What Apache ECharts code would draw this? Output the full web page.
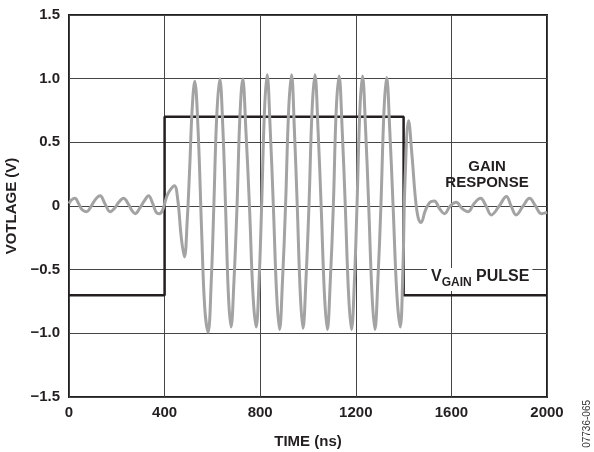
<!DOCTYPE html>
<html>
<head>
<meta charset="utf-8">
<script src="https://cdn.jsdelivr.net/npm/echarts@6/dist/echarts.min.js"></script>
<style>
  html, body { margin: 0; padding: 0; background: #fff; }
  #chart { width: 594px; height: 452px; }
</style>
</head>
<body>
<div id="chart"></div>
<script>
// tick labels
const xTickLabels = ['0', '400', '800', '1200', '1600', '2000'];
const yTickLabels = ['\u22121.5', '\u22121.0', '\u22120.5', '0', '0.5', '1.0', '1.5'];

// V_GAIN pulse (ns, V)
const pulseTime = [0, 400, 400, 1400, 1400, 2000];
const pulseValue = [-0.7, -0.7, 0.7, 0.7, -0.7, -0.7];

// gain response (ns, V)
const gainTime = [
    0, 12, 25, 40, 55, 74, 90, 110, 130, 150, 172, 190, 208, 228, 250, 265, 277, 295, 315, 333,
    350, 365, 378, 392, 410, 425, 441, 455, 470, 483, 495, 505, 515, 526, 540, 555, 568, 582, 595, 606,
    618, 631, 644, 655, 667, 678, 690, 703, 715, 727, 740, 755, 770, 783, 795, 806, 818, 829, 842, 855,
    869, 881, 893, 906, 919, 931, 943, 955, 968, 979, 991, 1004, 1017, 1029, 1042, 1055, 1069, 1081, 1093, 1106,
    1118, 1130, 1143, 1156, 1170, 1182, 1194, 1205, 1217, 1228, 1241, 1254, 1268, 1280, 1292, 1305, 1318, 1329, 1342, 1356,
    1372, 1386, 1397, 1406, 1421, 1435, 1450, 1462, 1473, 1490, 1510, 1529, 1550, 1571, 1595, 1620, 1645, 1669, 1695, 1722,
    1745, 1767, 1800, 1830, 1850, 1871, 1900, 1927, 1952, 1976, 2000
];
const gainValue = [
    0.02, 0.05, 0.06, 0.02, -0.03, -0.045, -0.01, 0.05, 0.08, 0.02, -0.045, -0.02, 0.03, 0.06, 0.01, -0.04, -0.06, -0.02, 0.04, 0.08,
    0.02, -0.05, -0.06, -0.03, 0.08, 0.13, 0.16, 0.05, -0.25, -0.40, -0.1, 0.3, 0.75, 0.98, 0.6, -0.2, -0.8, -0.99, -0.6, 0,
    0.7, 1.0, 0.6, 0, -0.7, -0.95, -0.6, 0, 0.7, 1.0, 0.6, 0, -0.7, -0.95, -0.6, 0, 0.75, 1.03, 0.6, 0,
    -0.7, -0.97, -0.6, 0, 0.75, 1.03, 0.6, 0, -0.7, -0.96, -0.6, 0, 0.75, 1.03, 0.6, 0, -0.7, -0.97, -0.6, 0,
    0.75, 1.02, 0.6, 0, -0.7, -0.97, -0.6, 0, 0.75, 1.02, 0.6, 0, -0.7, -0.97, -0.6, 0, 0.75, 1.01, 0.6, 0,
    -0.7, -0.95, -0.5, 0.2, 0.67, 0.4, 0.05, -0.1, -0.13, -0.04, 0.03, 0.04, -0.02, -0.06, 0, 0.03, -0.02, -0.045, 0.02, 0.06,
    0, -0.07, 0, 0.075, 0, -0.07, 0, 0.06, 0, -0.06, -0.05
];

const font = '"Liberation Sans", Arial, sans-serif';
const chart = echarts.init(document.getElementById('chart'));

const option = {
    animation: false,
    textStyle: { fontFamily: font },
    grid: {
        left: 69, right: 47, top: 15, bottom: 55,
        outerBoundsMode: 'none',
        show: true, borderColor: '#231f20', borderWidth: 2
    },
    xAxis: {
        type: 'value',
        min: 0, max: 2000, interval: 400,
        name: 'TIME (ns)',
        nameLocation: 'middle',
        nameGap: 37,
        nameTextStyle: { fontWeight: 'bold', fontSize: 15, color: '#231f20' },
        axisLine: { show: false },
        axisTick: { show: false },
        axisLabel: {
            margin: 8, fontWeight: 'bold', fontSize: 15, color: '#231f20',
            formatter: (v, i) => xTickLabels[i]
        },
        splitLine: { show: true, lineStyle: { color: '#444', width: 1 } }
    },
    yAxis: {
        type: 'value',
        min: -1.5, max: 1.5, interval: 0.5,
        name: 'VOTLAGE (V)',
        nameLocation: 'middle',
        nameGap: 48,
        nameTextStyle: { fontWeight: 'bold', fontSize: 15, color: '#231f20' },
        axisLine: { show: false },
        axisTick: { show: false },
        axisLabel: {
            margin: 9, fontWeight: 'bold', fontSize: 15, color: '#231f20',
            formatter: (v, i) => yTickLabels[i]
        },
        splitLine: { show: true, lineStyle: { color: '#444', width: 1 } }
    },
    series: [
        {
            name: 'VGAIN PULSE',
            type: 'line',
            data: pulseTime.map((t, i) => [t, pulseValue[i]]),
            showSymbol: false,
            lineStyle: { color: '#231f20', width: 2.5 },
            z: 2
        },
        {
            name: 'GAIN RESPONSE',
            type: 'line',
            data: gainTime.map((t, i) => [t, gainValue[i]]),
            showSymbol: false,
            smooth: 0.4,
            lineStyle: { color: '#a3a3a3', width: 3 },
            z: 3
        }
    ],
    graphic: [
        {
            type: 'text', x: 487, y: 159, z: 10,
            style: {
                text: 'GAIN', align: 'center', verticalAlign: 'top', fontWeight: 'bold', fontSize: 15,
                fontFamily: font, fill: '#231f20'
            }
        },
        {
            type: 'text', x: 487, y: 175, z: 10,
            style: {
                text: 'RESPONSE', align: 'center', verticalAlign: 'top', fontWeight: 'bold', fontSize: 15,
                fontFamily: font, fill: '#231f20'
            }
        },
        {
            type: 'text', left: 427, top: 268, z: 10,
            style: {
                text: '{v|V}{s|GAIN}{v| PULSE}',
                backgroundColor: '#fff', padding: [1, 3, 2, 4],
                fontFamily: font, fill: '#231f20',
                rich: {
                    v: { fontWeight: 'bold', fontSize: 16, fontFamily: font, fill: '#231f20', verticalAlign: 'top', lineHeight: 20 },
                    s: { fontWeight: 'bold', fontSize: 12, fontFamily: font, fill: '#231f20', verticalAlign: 'bottom', lineHeight: 20, padding: [7, 0, 0, 0] }
                }
            }
        },
        {
            type: 'text', left: 582, top: 400, rotation: Math.PI / 2,
            style: { text: '07736-065', fontSize: 10, fontFamily: font, fill: '#333' }
        }
    ]
};

chart.setOption(option);
</script>
</body>
</html>
